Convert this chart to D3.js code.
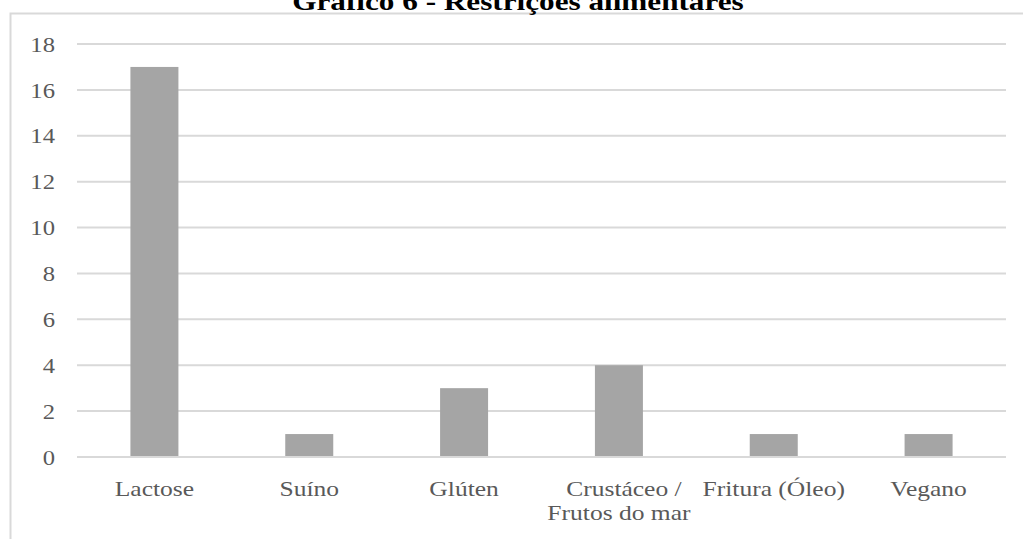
<!DOCTYPE html>
<html>
<head>
<meta charset="utf-8">
<script src="https://cdn.jsdelivr.net/npm/d3@7"></script>
<style>
html,body{margin:0;padding:0;background:#fff;overflow:hidden;}
svg{display:block;}
svg text{font-family:"Liberation Serif","Times New Roman",Times,"DejaVu Serif",serif;}
</style>
</head>
<body>
<svg id="chart" width="1023" height="539"></svg>
<script>
const title = "Gráfico 6 - Restrições alimentares";
const categories = ["Lactose", "Suíno", "Glúten", "Crustáceo / Frutos do mar", "Fritura (Óleo)", "Vegano"];
const categoryLines = [["Lactose"], ["Suíno"], ["Glúten"], ["Crustáceo /", "Frutos do mar"], ["Fritura (Óleo)"], ["Vegano"]];
const values = [17, 1, 3, 4, 1, 1];
const yTicks = [0, 2, 4, 6, 8, 10, 12, 14, 16, 18];

const svg = d3.select("#chart");
const plot = {left: 77, right: 1006, top: 44, bottom: 457};
const textColor = "#595959";
const sx = 1.16;

// frame
svg.append("rect").attr("x", 10.5).attr("y", 13.5).attr("width", 1030).attr("height", 540)
  .attr("fill", "none").attr("stroke", "#d9d9d9").attr("stroke-width", 2);

// title (clipped at top, as in the reference)
svg.append("text")
  .attr("transform", `translate(518,10) scale(1.2,1)`)
  .attr("text-anchor", "middle")
  .attr("font-weight", "bold").attr("font-size", 26)
  .attr("fill", "#000").text(title);

const x = d3.scaleBand().domain(categories).range([plot.left, plot.right]).paddingInner(0).paddingOuter(0);
const y = d3.scaleLinear().domain([0, 18]).range([plot.bottom, plot.top]);

// gridlines
svg.append("g").selectAll("line").data(yTicks).join("line")
  .attr("x1", plot.left).attr("x2", plot.right)
  .attr("y1", d => y(d)).attr("y2", d => y(d))
  .attr("stroke", "#d9d9d9").attr("stroke-width", 2);

// y tick labels
svg.append("g").selectAll("text").data(yTicks).join("text")
  .attr("transform", d => `translate(55,${y(d)}) scale(1.12,1)`)
  .attr("text-anchor", "end").attr("dy", "0.35em")
  .attr("font-size", 22).attr("fill", textColor)
  .text(d => d);

// bars
const barW = 48;
svg.append("g").selectAll("rect").data(values).join("rect")
  .attr("x", (d, i) => x(categories[i]) + x.bandwidth() / 2 - barW / 2)
  .attr("width", barW)
  .attr("y", d => y(d))
  .attr("height", d => y(0) - y(d) - 1)
  .attr("fill", "#a5a5a5");

// category labels
const lab = svg.append("g");
categories.forEach((c, i) => {
  const cx = x(c) + x.bandwidth() / 2;
  categoryLines[i].forEach((line, j) => {
    lab.append("text")
      .attr("transform", `translate(${cx + (categoryLines[i].length > 1 && j === 0 ? 5 : 0)},${496 + j * 24}) scale(${sx},1)`)
      .attr("text-anchor", "middle")
      .attr("font-size", 22).attr("fill", textColor)
      .text(line);
  });
});
</script>
</body>
</html>
